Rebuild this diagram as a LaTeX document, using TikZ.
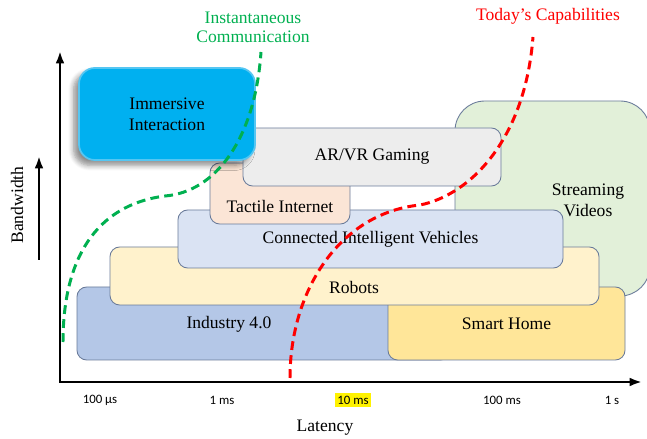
\documentclass[tikz,border=0pt]{standalone}
\usepackage{fontspec}
\setmainfont{Liberation Serif}
\newfontfamily\tickfont{Carlito}
\usetikzlibrary{arrows.meta,shadows.blur}
\definecolor{bordc}{HTML}{6A7B9A}
\definecolor{cImm}{HTML}{00B0F0}
\definecolor{cImmB}{HTML}{55C6F2}
\definecolor{cAR}{HTML}{EDEDED}
\definecolor{cStream}{HTML}{E2F0D9}
\definecolor{cTact}{HTML}{FBE5D6}
\definecolor{cCIV}{HTML}{DAE3F3}
\definecolor{cRob}{HTML}{FFF2CC}
\definecolor{cInd}{HTML}{B4C7E7}
\definecolor{cHome}{HTML}{FFE699}
\definecolor{cGreen}{HTML}{00B050}
\definecolor{cRed}{HTML}{FF0000}
\begin{document}
\begin{tikzpicture}[x=0.02cm,y=-0.02cm,
  font=\fontsize{10}{12}\selectfont,
  box/.style={draw=bordc, line width=0.5pt, rounded corners=5.5pt, inner sep=0pt, outer sep=0pt},
  lbl/.style={align=center, inner sep=0pt},
  tick/.style={font=\tickfont\fontsize{7.3}{9}\selectfont, inner sep=1pt},
  axisline/.style={line width=1.6pt, line join=miter},
  tip/.style={-{Latex[length=7pt,width=5pt]}},
  dsh/.style={line width=1.7pt, dash pattern=on 5pt off 3pt}]
\useasboundingbox (0,0) rectangle (647,439);

% boxes (back to front)
\node[box, fill=cStream, rounded corners=17pt, minimum width=195*0.02cm, minimum height=195*0.02cm] (stream) at (552.5,198.5) {};
\node[lbl] (streamtxt) at (588,200) {Streaming\\Videos};

\node[box, fill=cInd, minimum width=373*0.02cm, minimum height=73*0.02cm] (industry) at (263.5,323.5) {};
\node[lbl] (industrytxt) at (229,324) {Industry 4.0};

\node[box, fill=cHome, minimum width=237*0.02cm, minimum height=73*0.02cm] (home) at (506.5,323.5) {Smart Home};

\node[box, fill=cRob, minimum width=489*0.02cm, minimum height=58*0.02cm] (robots) at (354.5,276) {};
\node[lbl] (robotstxt) at (354,287) {Robots};

\node[box, fill=cCIV, minimum width=385*0.02cm, minimum height=58*0.02cm] (civ) at (370.5,239) {Connected Intelligent Vehicles};

\node[box, fill=cTact, minimum width=140*0.02cm, minimum height=61*0.02cm] (tactile) at (280,193.5) {};
\node[lbl] (tactiletxt) at (280,206) {Tactile Internet};

\node[box, fill=cAR, minimum width=258*0.02cm, minimum height=58*0.02cm] (arvr) at (372,157) {AR/VR Gaming};

\node[box, draw=cImmB, line width=1pt, fill=cImm, rounded corners=9pt,
  blur shadow={shadow xshift=-3pt, shadow yshift=-3pt, shadow blur radius=3pt, shadow blur steps=6, shadow opacity=45},
  minimum width=176*0.02cm, minimum height=92*0.02cm, align=center] (imm) at (167,114) {Immersive\\Interaction};

% dashed curves
\coordinate (g0) at (63,342);
\coordinate (g1) at (165,196);
\coordinate (g2) at (261,52);
\draw[dsh, cGreen] (g0) .. controls (63,260) and (95,205) .. (g1) .. controls (215,192) and (255,140) .. (g2);
\node[lbl, text=cGreen] (greentxt) at (253,27.5) {Instantaneous\\[-1pt]Communication};

\coordinate (r0) at (290,378);
\coordinate (r1) at (420,205);
\coordinate (r2) at (533,37);
\draw[dsh, cRed] (r0) .. controls (290,290) and (340,213) .. (r1) .. controls (470,195) and (525,140) .. (r2);
\node[lbl, text=cRed] (redtxt) at (548,16) {Today’s Capabilities};

% axes
\coordinate (o) at (60,382);
\coordinate (ytop) at (60,51);
\coordinate (xend) at (642,382);
\draw[axisline, {Latex[length=7pt,width=5pt]}-{Latex[length=7pt,width=5pt]}] (ytop) -- (o) -- (xend);

\coordinate (bw0) at (39,260);
\coordinate (bw1) at (39,156);
\draw[axisline, tip] (bw0) -- (bw1);
\node[lbl, rotate=90] (bwtxt) at (17,205) {Bandwidth};
\node[lbl] (lattxt) at (325,428) {Latency};

% ticks
\node[tick] (t1) at (100,400) {100 µs};
\node[tick] (t2) at (222,400) {1 ms};
\node[tick, fill=yellow, inner xsep=1.5pt, inner ysep=1.5pt] (t3) at (353,400) {10 ms};
\node[tick] (t4) at (502,400) {100 ms};
\node[tick] (t5) at (612,400) {1 s};
\end{tikzpicture}
\end{document}
